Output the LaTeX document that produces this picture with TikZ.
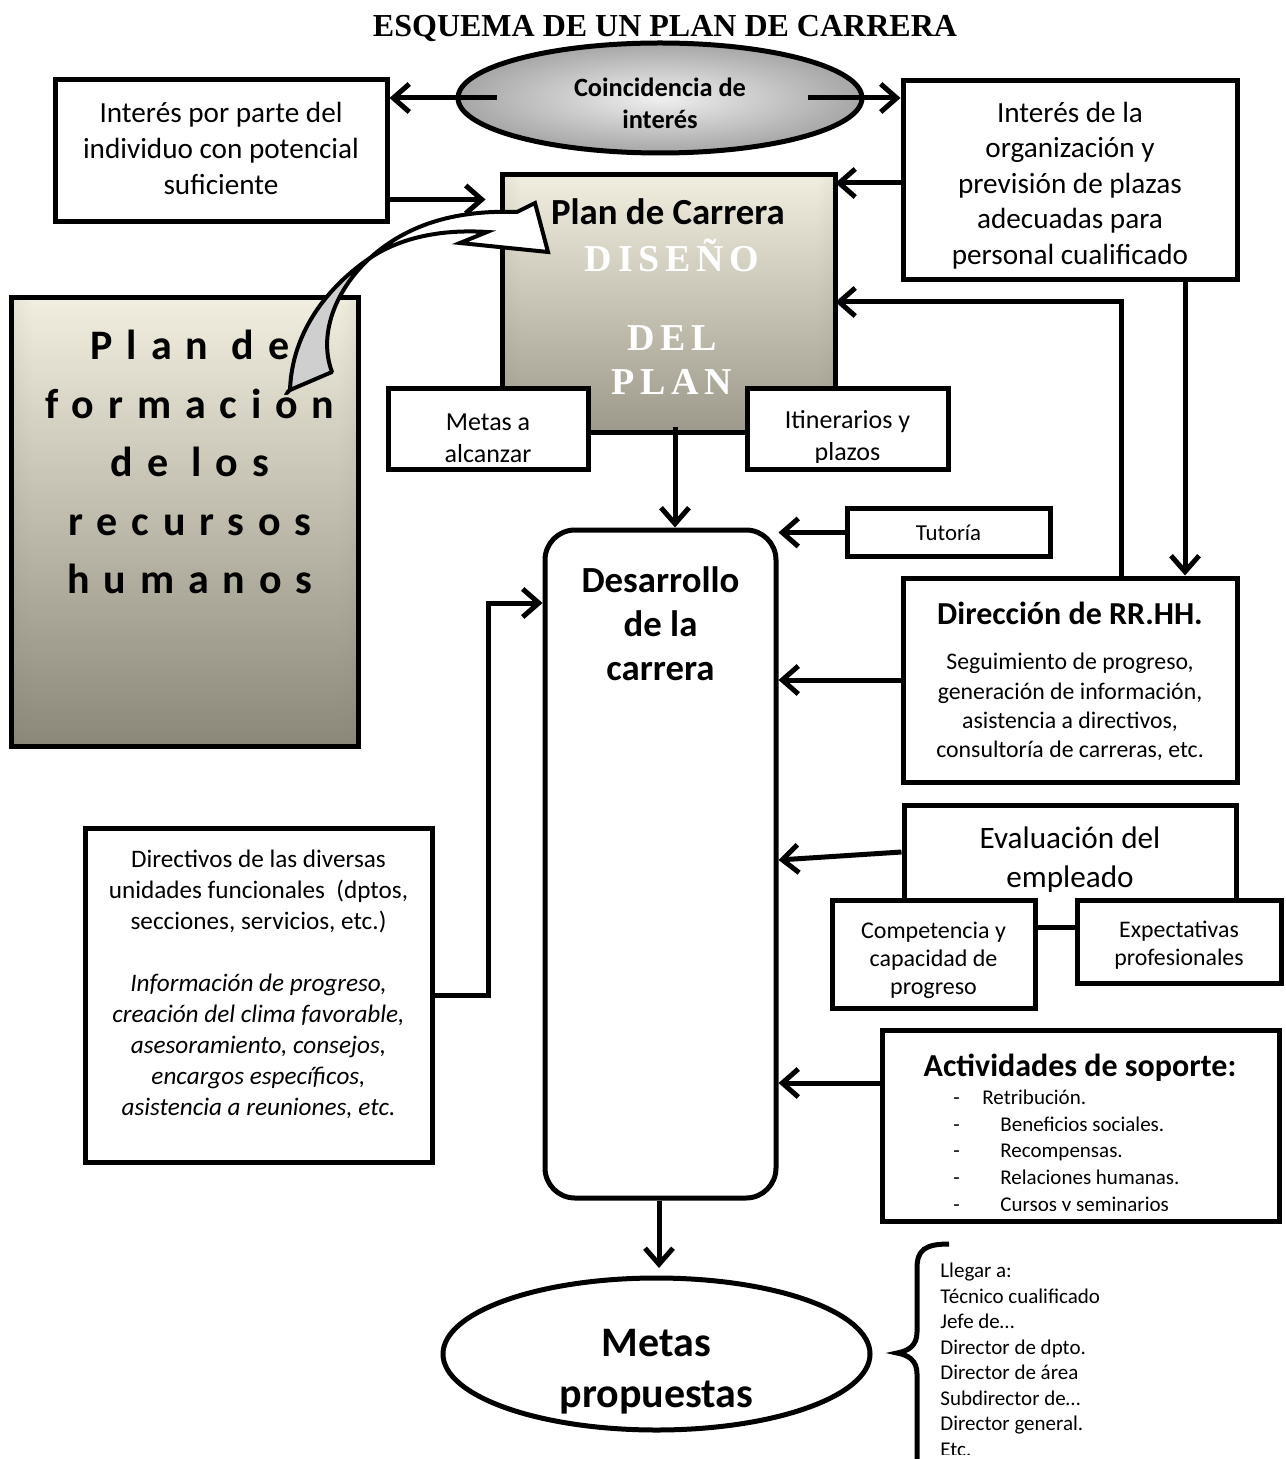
\documentclass[tikz,border=0pt]{standalone}
\usepackage{fontspec}
\setmainfont{Carlito}
\newfontfamily\titlefont{Liberation Serif}
\newfontfamily\spacedfont[LetterSpace=33]{Carlito}
\newfontfamily\stencilfont[LetterSpace=15]{Liberation Serif}
\usetikzlibrary{arrows.meta,calc,fadings,shapes.geometric}
\definecolor{bronzeD}{HTML}{7B7768}
\definecolor{bronzeM}{HTML}{B3AF9F}
\definecolor{bronzeL}{HTML}{F2EFE0}
\definecolor{ribbon}{HTML}{CFCFCF}
\pgfdeclarehorizontalshading{bronzeH}{100bp}{color(0bp)=(bronzeD); color(10bp)=(bronzeM); color(28bp)=(bronzeL); color(72bp)=(bronzeL); color(90bp)=(bronzeM); color(100bp)=(bronzeD)}
\tikzfading[name=fadeDown, top color=transparent!100, middle color=transparent!75, bottom color=transparent!5]
\begin{document}
\begin{tikzpicture}[x=0.5pt,y=-0.5pt,
  box/.style={draw, line width=2.5pt, fill=white, inner sep=0pt, rectangle},
  frame/.style={inner sep=0pt, rectangle},
  arr/.style={line width=2.5pt, -{Straight Barb[length=8pt,width=14pt]}},
  ln/.style={line width=2.5pt},
  txt/.style={inner sep=0pt, align=center},
  itemf/.style={inner sep=0pt, anchor=base west, font=\fontsize{10.5pt}{13pt}\selectfont}]
\useasboundingbox (0,0) rectangle (1285,1459);

% title
\node[txt, font=\titlefont\bfseries\fontsize{16pt}{19pt}\selectfont] (title) at (665,29) {ESQUEMA DE UN PLAN DE CARRERA};

% coincidence ellipse
\node[ellipse, draw, line width=2.5pt, inner color=gray!12, outer color=gray!70, minimum width=202pt, minimum height=55pt, inner sep=0pt] (coin) at (660,98) {};
\node[txt, font=\bfseries\fontsize{13.2pt}{16pt}\selectfont] (cointxt) at (660,103) {Coincidencia de\\interés};

% individual box
\node[box, minimum width=166pt, minimum height=71pt] (ind) at (221,151) {};
\node[txt, font=\fontsize{14.6pt}{18pt}\selectfont] (indtxt) at (221,148) {Interés por parte del\\individuo con potencial\\suficiente};

% organisation box
\node[box, minimum width=167pt, minimum height=99.5pt] (org) at (1070,180.5) {};
\node[txt, font=\fontsize{14.6pt}{17.75pt}\selectfont] (orgtxt) at (1070,185.5) {Interés de la\\organización y\\previsión de plazas\\adecuadas para\\personal cualificado};

% formacion box
\node[frame, minimum width=173pt, minimum height=224pt] (form) at (185,522) {};
\shade[shading=bronzeH] (form.south west) rectangle (form.north east);
\fill[bronzeD, path fading=fadeDown, fill opacity=0.9] (form.south west) rectangle (form.north east);
\draw[ln] (form.south west) rectangle (form.north east);
\node[txt, font=\spacedfont\bfseries\fontsize{21pt}{29.25pt}\selectfont] (formtxt) at (190,462) {Plan de\\formación\\de los\\recursos\\humanos};

% plan box
\node[frame, minimum width=166pt, minimum height=128.5pt] (plan) at (669,303.5) {};
\shade[shading=bronzeH] (plan.south west) rectangle (plan.north east);
\fill[bronzeD, path fading=fadeDown, fill opacity=0.75] (plan.south west) rectangle (plan.north east);
\draw[ln] (plan.south west) rectangle (plan.north east);
\node[txt, font=\bfseries\fontsize{18.4pt}{22pt}\selectfont] (plantitle) at (668,212) {Plan de Carrera};
\node[txt, text=white, font=\stencilfont\bfseries\fontsize{19pt}{22pt}\selectfont] (d1) at (672,255) {DISEÑO};
\node[txt, text=white, font=\stencilfont\bfseries\fontsize{19pt}{22pt}\selectfont] (d2) at (672,338) {DEL};
\node[txt, text=white, font=\stencilfont\bfseries\fontsize{19pt}{22pt}\selectfont] (d3) at (672,382) {PLAN};

% metas a / itinerarios
\node[box, minimum width=100pt, minimum height=40.5pt] (metasa) at (488,429.5) {};
\begin{scope}
\clip ($(metasa.north west)+(3,3)$) rectangle ($(metasa.south east)+(-3,-10)$);
\node[txt, font=\fontsize{13pt}{16pt}\selectfont] (metasatxt) at (488,438) {Metas a\\alcanzar};
\end{scope}
\node[box, minimum width=100.5pt, minimum height=40.5pt] (itin) at (847.5,429.5) {};
\begin{scope}
\clip ($(itin.north west)+(3,3)$) rectangle ($(itin.south east)+(-3,-10)$);
\node[txt, font=\fontsize{13pt}{16pt}\selectfont] (itintxt) at (847.5,438) {Itinerarios y\\plazos};
\end{scope}

% curved ribbon arrow
\filldraw[fill=ribbon, line width=2pt, line join=round] (370,258) .. controls (330,285) and (292,330) .. (290,390) -- (332,372) .. controls (318,335) and (335,290) .. (370,258) -- cycle;
\filldraw[fill=white, line width=2pt, line join=miter] (370,258) .. controls (410,222) and (460,210) .. (517,212) -- (535,203) -- (548,252) -- (460,243) -- (487,232) .. controls (440,229) and (400,238) .. (370,258) -- cycle;

% desarrollo
\node[draw, line width=2.5pt, fill=white, rounded corners=15pt, minimum width=115.5pt, minimum height=334pt, inner sep=0pt] (des) at (660.5,864) {};
\node[txt, font=\bfseries\fontsize{18.4pt}{22pt}\selectfont] (destxt) at (660.5,624) {Desarrollo\\de la\\carrera};

% tutoria
\node[box, minimum width=101.5pt, minimum height=23.5pt, font=\fontsize{11.4pt}{14pt}\selectfont] (tut) at (948.5,532.5) {Tutoría};

% direccion
\node[box, minimum width=167pt, minimum height=102pt] (dir) at (1070,680) {};
\node[txt, font=\bfseries\fontsize{16pt}{19pt}\selectfont] (dirtitle) at (1070,613) {Dirección de RR.HH.};
\node[txt, font=\fontsize{11.9pt}{14.6pt}\selectfont] (dirbody) at (1070,707) {Seguimiento de progreso,\\generación de información,\\asistencia a directivos,\\consultoría de carreras, etc.};

% evaluacion (its lower edge joins the two boxes below)
\node[box, minimum width=166pt, minimum height=61pt] (eva) at (1070,866) {};
\node[txt, font=\fontsize{15.6pt}{19.5pt}\selectfont] (evatxt) at (1070,860) {Evaluación del\\empleado};
\node[box, minimum width=101.5pt, minimum height=54pt] (comp) at (933.5,954) {};
\begin{scope}
\clip ($(comp.north west)+(3,3)$) rectangle ($(comp.south east)+(-3,-12)$);
\node[txt, font=\fontsize{12pt}{14pt}\selectfont] (comptxt) at (933.5,960) {Competencia y\\capacidad de\\progreso};
\end{scope}
\node[box, minimum width=102pt, minimum height=41.5pt] (expe) at (1179,941.5) {};
\node[txt, font=\fontsize{11.9pt}{14pt}\selectfont] (expetxt) at (1179,945.5) {Expectativas\\profesionales};

% actividades
\node[box, minimum width=198.5pt, minimum height=95.5pt] (act) at (1080.5,1125.5) {};
\node[txt, font=\bfseries\fontsize{16pt}{19pt}\selectfont] (acttitle) at (1080,1068) {Actividades de soporte:};
\begin{scope}
\clip ($(act.north west)+(3,3)$) rectangle ($(act.south east)+(-3,-13)$);
\foreach \t/\xx/\yy [count=\i] in {Retribución./982/1104, Beneficios sociales./1000/1131, Recompensas./1000/1157, Relaciones humanas./1000/1184, Cursos y seminarios/1000/1211}{
  \node[itemf] (dash\i) at (953,\yy) {-};
  \node[itemf] (item\i) at (\xx,\yy) {\t};
}
\end{scope}

% directivos
\node[box, minimum width=173.5pt, minimum height=167pt] (dirv) at (258.5,995) {};
\node[txt, font=\fontsize{12.6pt}{15.5pt}\selectfont] (dirvtxt) at (258.5,984) {Directivos de las diversas\\unidades funcionales~ (dptos,\\secciones, servicios, etc.)\\\mbox{}\\\itshape Información de progreso,\\\itshape creación del clima favorable,\\\itshape asesoramiento, consejos,\\\itshape encargos específicos,\\\itshape asistencia a reuniones, etc.};

% metas propuestas
\node[ellipse, draw, line width=2.5pt, fill=white, minimum width=213.5pt, minimum height=76pt, inner sep=0pt] (metas) at (656.5,1354) {};
\node[txt, font=\bfseries\fontsize{21pt}{25.5pt}\selectfont] (metastxt) at (656.5,1372) {Metas\\propuestas};

% brace and list
\draw[line width=2.5pt] (949,1244) .. controls (925,1244) and (917,1250) .. (917,1268) -- (917,1332) .. controls (917,1346) and (908,1351) .. (897,1353) .. controls (908,1355) and (917,1360) .. (917,1374) -- (917,1470);
\begin{scope}
\clip (900,1240) rectangle (1200,1454);
\node[anchor=west, inner sep=0pt, align=left, font=\fontsize{10.5pt}{12.75pt}\selectfont] (list) at (940,1360) {Llegar a:\\Técnico cualificado\\Jefe de…\\Director de dpto.\\Director de área\\Subdirector de…\\Director general.\\Etc.};
\end{scope}

% connectors
\draw[arr] ($(coin.west)+(41,0)$) -- (ind.east |- coin.west);
\draw[arr] ($(coin.east)+(-57,0)$) -- (org.west |- coin.east);
\draw[arr] ($(ind.south east)+(0,-25)$) -- ++(96,0);
\draw[arr] ($(org.west)+(0,2.5)$) -- (plan.east |- 0,183);
\draw[arr] (dir.north -| 1121,0) -- (1121,302) -- (plan.east |- 0,302);
\draw[arr] (org.south -| 1185,0) -- (dir.north -| 1185,0);
\draw[arr] (675,427) -- (des.north -| 675,0);
\draw[arr] (tut.west) -- (des.east |- tut.west);
\draw[arr] (dir.west) -- (des.east |- dir.west);
\draw[arr] (eva.west |- 0,852) -- (des.east |- 0,860);
\draw[arr] (act.west |- 0,1083) -- (des.east |- 0,1083);
\draw[arr] (dirv.east) -- (488,995) -- (488,603) -- (des.west |- 0,603);
\draw[arr] (des.south -| 659,0) -- (659,1268);
\end{tikzpicture}
\end{document}
